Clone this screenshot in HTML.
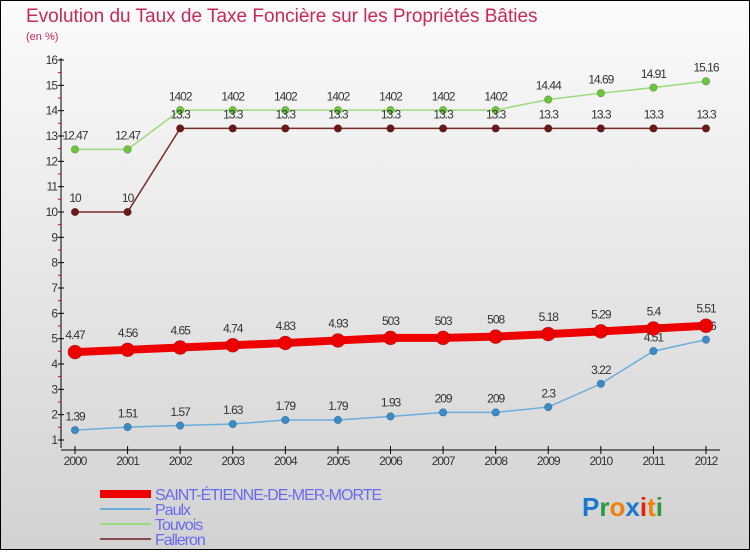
<!DOCTYPE html>
<html><head><meta charset="utf-8"><style>
html,body{margin:0;padding:0;}
body{width:750px;height:550px;overflow:hidden;font-family:"Liberation Sans","DejaVu Sans",sans-serif;}
svg text{font-family:"Liberation Sans","DejaVu Sans",sans-serif;}
</style></head><body>
<svg id="chart" width="750" height="550" xmlns="http://www.w3.org/2000/svg">
<defs><linearGradient id="bg" x1="0" y1="0" x2="0" y2="1"><stop offset="0" stop-color="#fbfbfb"/><stop offset="1" stop-color="#d2d2d2"/></linearGradient></defs>
<rect x="0.5" y="0.5" width="749" height="549" fill="url(#bg)" stroke="#000"/>
<text x="26" y="22" font-size="19" fill="#c8285a">Evolution du Taux de Taxe Foncière sur les Propriétés Bâties</text>
<text x="26" y="40" font-size="11" fill="#c8285a">(en %)</text>
<g id="axes"></g>
<g id="series"></g>
<g id="legend"></g>
<g font-size="26" font-weight="bold" font-family="Liberation Sans, sans-serif">
<text x="582" y="516"><tspan fill="#1a78d0">P</tspan><tspan fill="#2a9a3a">r</tspan><tspan fill="#f08010">o</tspan><tspan fill="#1a78d0">x</tspan><tspan fill="#e02010">i</tspan><tspan fill="#f08010">t</tspan><tspan fill="#2a9a3a">i</tspan></text>
</g>
</svg>
<script>
const years = [2000,2001,2002,2003,2004,2005,2006,2007,2008,2009,2010,2011,2012];
const yTicks = [1,2,3,4,5,6,7,8,9,10,11,12,13,14,15,16];
const stEtienne = [4.47,4.56,4.65,4.74,4.83,4.93,5.03,5.03,5.08,5.18,5.29,5.4,5.51];
const paulx = [1.39,1.51,1.57,1.63,1.79,1.79,1.93,2.09,2.09,2.3,3.22,4.51,4.96];
const touvois = [12.47,12.47,14.02,14.02,14.02,14.02,14.02,14.02,14.02,14.44,14.69,14.91,15.16];
const falleron = [10,10,13.3,13.3,13.3,13.3,13.3,13.3,13.3,13.3,13.3,13.3,13.3];
const seriesNames = ["SAINT-ÉTIENNE-DE-MER-MORTE","Paulx","Touvois","Falleron"];

const NS="http://www.w3.org/2000/svg";
function xS(i){return 75+i*(706-75)/(years.length-1);}
function yS(v){return 440-(v-1)*(440-60)/15;}
function mk(tag,attrs,parent){const e=document.createElementNS(NS,tag);for(const k in attrs)e.setAttribute(k,attrs[k]);parent.appendChild(e);return e;}
function fmt(v){return String(v).replace(/\.0(\d)$/,'0$1');}

const axes=document.getElementById('axes');
const yAxis=mk('line',{x1:61,y1:58,x2:61,y2:448,stroke:'#000'},axes);


yTicks.forEach(t=>{
  const y=yS(t);
  mk('line',{x1:58,y1:y,x2:64,y2:y,stroke:'#000'},axes);
  if(t<16) mk('line',{x1:58,y1:y-12.7,x2:61,y2:y-12.7,stroke:'#e00'},axes);
  const lb=mk('text',{x:57,y:y+4,'font-size':12,'text-anchor':'end',fill:'#333','letter-spacing':'-1'},axes);
  lb.textContent=t;
  
  
});
const xAxis=mk('line',{x1:61,y1:450,x2:720,y2:450,stroke:'#000'},axes);


years.forEach((yr,i)=>{
  const x=xS(i);
  mk('line',{x1:x,y1:446,x2:x,y2:454,stroke:'#000'},axes);
  const lb=mk('text',{x:x,y:465,'font-size':12,'text-anchor':'middle',fill:'#333','letter-spacing':'-1'},axes);
  lb.textContent=yr;
  
  
});

const sg=document.getElementById('series');
function draw(vals,color,width,r,dot,name){
  const g=mk('g',{},sg);
  
  
  mk('polyline',{points:vals.map((v,i)=>xS(i)+','+yS(v)).join(' '),fill:'none',stroke:color,'stroke-width':width},g);
  vals.forEach((v,i)=>{
    const c=mk('circle',{cx:xS(i),cy:yS(v),r:r,fill:dot,stroke:'rgba(0,0,0,0.25)','stroke-width':0.7},g);
    
    
    const t=mk('text',{x:xS(i),y:yS(v)-r-6,'font-size':12,'text-anchor':'middle',fill:'#333','letter-spacing':'-1'},g);
    t.textContent=fmt(v);
    
    
  });
}
draw(touvois,'#9adc7a',1.5,3.8,'#6cc63c','touvois-series');
draw(falleron,'#7a2a2a',1.5,3.8,'#6a1818','falleron-series');
draw(paulx,'#6aaedc',1.5,3.8,'#3a8cc8','paulx-series');
draw(stEtienne,'#ee0000',8,7,'#ee0000','saint-etienne-series');

const lg=document.getElementById('legend');
const lcol=['#ee0000','#6aaedc','#9adc7a','#8a4a4a'];
const lw=[8,2,2,2];
seriesNames.forEach((n,i)=>{
  const y=494+i*15;
  const g=mk('g',{},lg);
  
  
  mk('line',{x1:100,y1:y,x2:151,y2:y,stroke:lcol[i],'stroke-width':lw[i]},g);
  const t=mk('text',{x:155,y:y+6,'font-size':16,fill:'#6a6aee','letter-spacing':'-1'},g);
  t.textContent=n;
});
</script>
</body></html>
